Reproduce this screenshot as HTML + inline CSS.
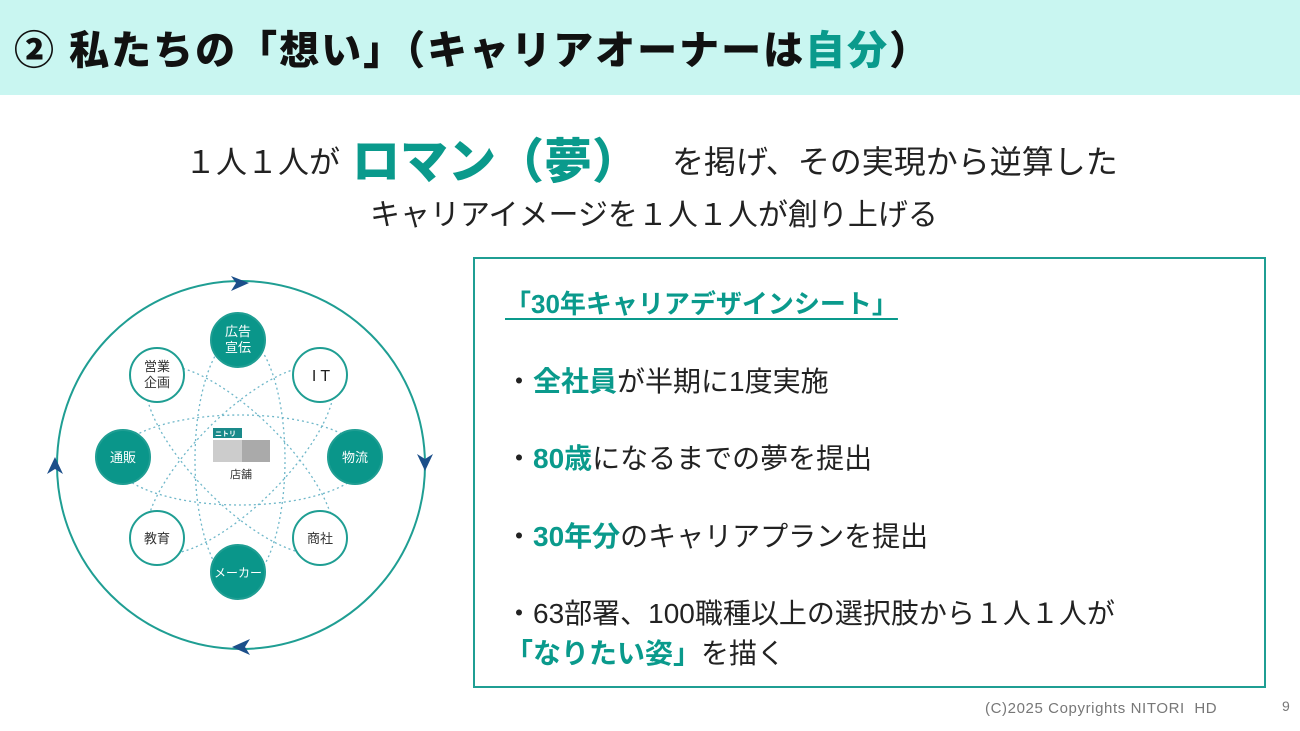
<!DOCTYPE html>
<html><head><meta charset="utf-8"><style>
body{margin:0;width:1300px;height:731px;overflow:hidden;background:#fff;font-family:"Liberation Sans","Noto Sans CJK JP",sans-serif;position:relative;color:#222}
.hdr{position:absolute;left:0;top:0;width:1300px;height:95px;background:#c9f6f1}
.t{position:absolute;white-space:nowrap}
.tl{left:14px;top:18px;font-size:40px;font-weight:900;color:#111;letter-spacing:2px}
.g{color:#0a9a8c}
.box{position:absolute;left:473px;top:257px;width:793px;height:431px;border:2px solid #1f9e93;box-sizing:border-box}
.b{font-size:28px;color:#222}
.b b{color:#0a9a8c}
</style></head><body>
<div class="hdr"></div>
<div class="t tl">② 私たちの「想い」（キャリアオーナーは<span class="g">自分</span>）</div>
<div class="t" style="left:185px;top:137px;font-size:31px">１人１人が</div>
<div class="t" style="left:352px;top:122px;font-size:48px;font-weight:900;color:#0a9a8c">ロマン（夢）</div>
<div class="t" style="left:672px;top:137px;font-size:32px">を掲げ、その実現から逆算した</div>
<div class="t" style="left:370px;top:190px;font-size:30px">キャリアイメージを１人１人が創り上げる</div>

<svg style="position:absolute;left:0;top:0" width="470" height="700">
<g fill="none" stroke="#6fb7c9" stroke-width="1.3" stroke-dasharray="2 3">
<ellipse cx="240" cy="460" rx="125" ry="45"/>
<ellipse cx="240" cy="460" rx="125" ry="45" transform="rotate(45 240 460)"/>
<ellipse cx="240" cy="460" rx="125" ry="45" transform="rotate(90 240 460)"/>
<ellipse cx="240" cy="460" rx="125" ry="45" transform="rotate(135 240 460)"/>
</g>
<circle cx="241" cy="465" r="184" fill="none" stroke="#1f9e93" stroke-width="2"/>
<g fill="#1c4f8a">
<path d="M231 276 L249 283 L231 291 L236 283Z"/>
<path d="M417 454 L425 471 L433 454 L425 459Z"/>
<path d="M250 639 L232 647 L250 655 L245 647Z"/>
<path d="M47 474 L55 457 L63 474 L55 469Z"/>
</g>
<g stroke="#1f9e93" stroke-width="2">
<circle cx="238" cy="340" r="27" fill="#0a968a"/>
<circle cx="157" cy="375" r="27" fill="#fff"/>
<circle cx="320" cy="375" r="27" fill="#fff"/>
<circle cx="123" cy="457" r="27" fill="#0a968a"/>
<circle cx="355" cy="457" r="27" fill="#0a968a"/>
<circle cx="157" cy="538" r="27" fill="#fff"/>
<circle cx="320" cy="538" r="27" fill="#fff"/>
<circle cx="238" cy="572" r="27" fill="#0a968a"/>
</g>
<rect x="213" y="428" width="29" height="10" fill="#1a8a8a"/>
<rect x="213" y="440" width="57" height="22" fill="#ccc"/>
<rect x="242" y="440" width="28" height="22" fill="#aaa"/>
<text x="215" y="436" font-size="7" fill="#fff" font-weight="bold">ニトリ</text>
<g font-family="Liberation Sans,Noto Sans CJK JP,sans-serif" text-anchor="middle" font-size="13">
<text x="238" y="336" fill="#fff">広告</text><text x="238" y="352" fill="#fff">宣伝</text>
<text x="157" y="371" fill="#333">営業</text><text x="157" y="387" fill="#333">企画</text>
<text x="321" y="381" fill="#222" font-size="16">I T</text>
<text x="123" y="462" fill="#fff">通販</text>
<text x="355" y="462" fill="#fff">物流</text>
<text x="157" y="543" fill="#333">教育</text>
<text x="320" y="543" fill="#333">商社</text>
<text x="238" y="577" fill="#fff" font-size="12">メーカー</text>
<text x="241" y="478" fill="#333" font-size="11">店舗</text>
</g>
</svg>

<div class="box"></div>
<div class="t" style="left:505px;top:284px;font-size:26px;font-weight:bold;color:#0a9a8c;text-decoration:underline;text-underline-offset:5px">「30年キャリアデザインシート」</div>
<div class="t b" style="left:505px;top:360px">・<b>全社員</b>が半期に1度実施</div>
<div class="t b" style="left:505px;top:437px">・<b>80歳</b>になるまでの夢を提出</div>
<div class="t b" style="left:505px;top:515px">・<b>30年分</b>のキャリアプランを提出</div>
<div class="t b" style="left:505px;top:592px">・63部署、100職種以上の選択肢から１人１人が</div>
<div class="t b" style="left:505px;top:632px"><b>「なりたい姿」</b>を描く</div>
<div class="t" style="left:985px;top:700px;font-size:15px;color:#777;letter-spacing:0.6px">(C)2025 Copyrights NITORI&nbsp; HD</div>
<div class="t" style="left:1282px;top:698px;font-size:14px;color:#777">9</div>
</body></html>
